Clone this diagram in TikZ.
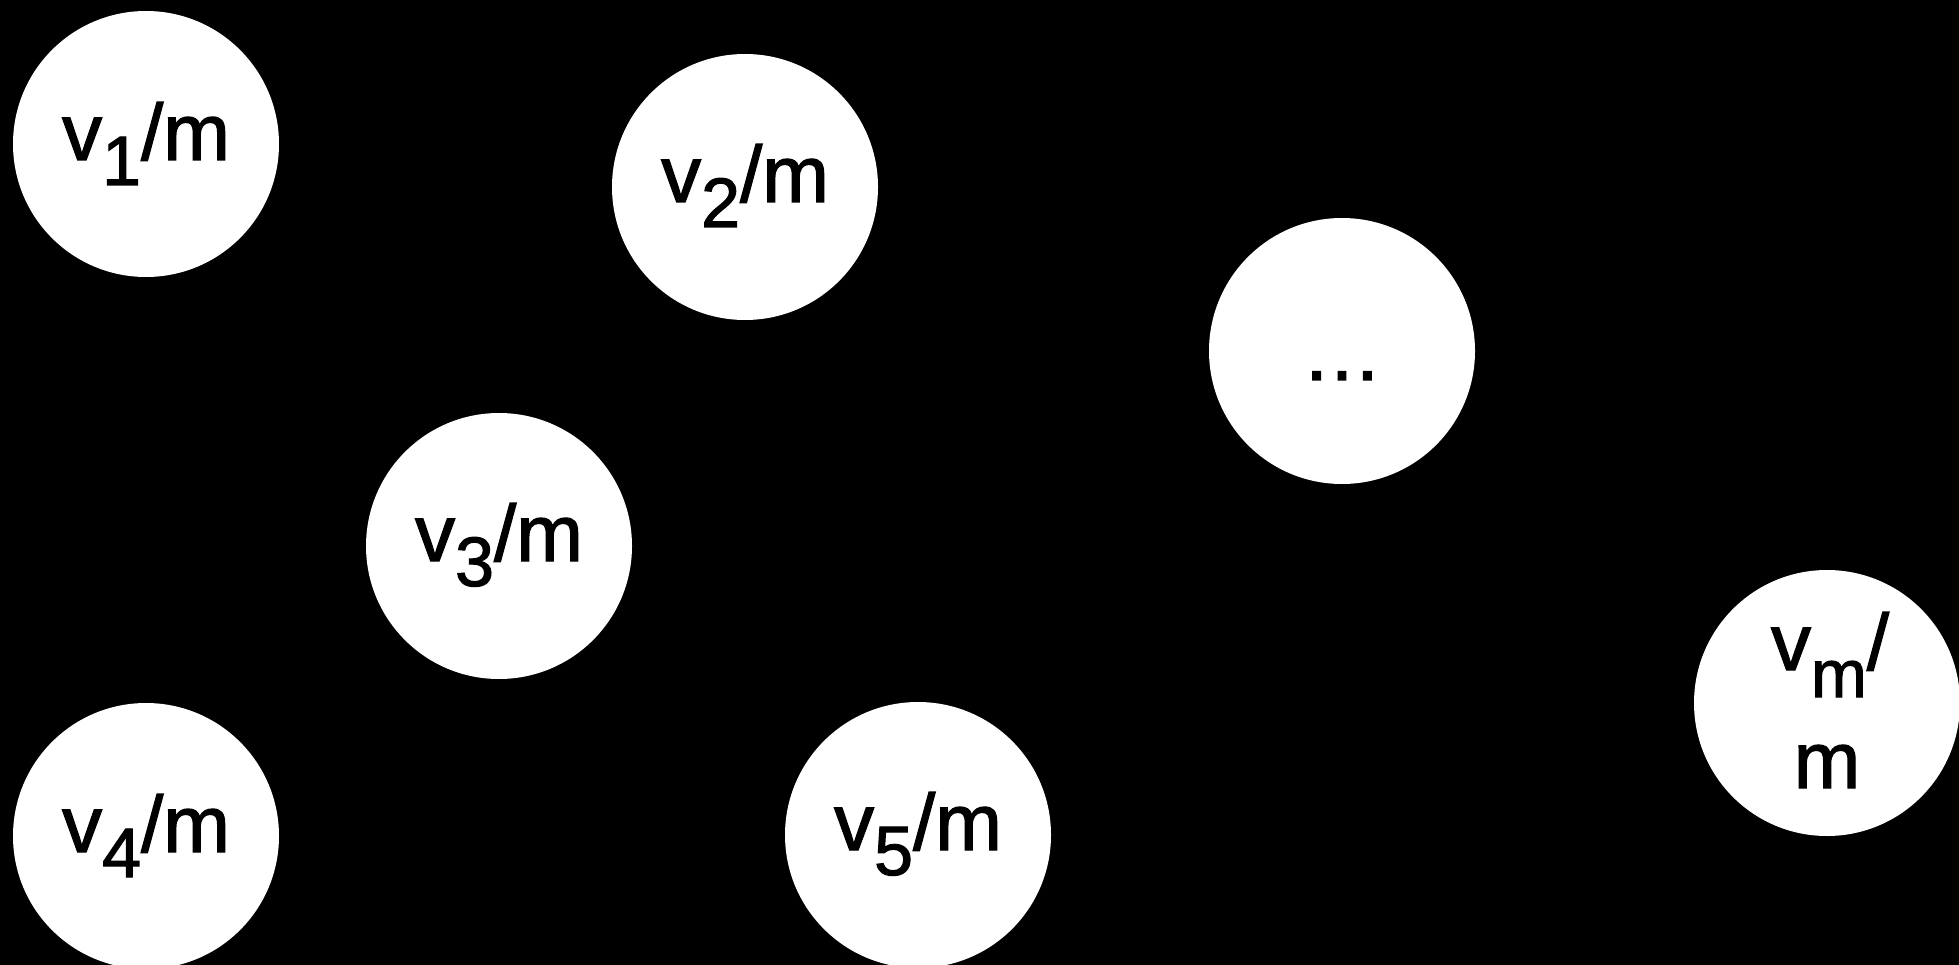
\documentclass[tikz,border=0pt]{standalone}
\usepackage{fontspec}
\setmainfont[FakeBold=1.6]{Liberation Sans}
\newcommand{\lbl}[1]{v\raisebox{-25pt}{\fontsize{70}{70}\selectfont #1}/m}
\begin{document}
\begin{tikzpicture}[x=1pt,y=-1pt,
  bubble/.style={circle,fill=white,draw=none,minimum size=266pt,inner sep=0pt},
  txt/.style={anchor=base,inner sep=0pt,font=\fontsize{80}{96}\selectfont}]
\fill[black] (0,0) rectangle (1959,965);
\useasboundingbox (0,0) rectangle (1959,965);
\node[bubble] (c1) at (146,144) {};
\node[bubble] (c2) at (745,187) {};
\node[bubble] (cd) at (1342,351) {};
\node[bubble] (c3) at (499,546) {};
\node[bubble] (c4) at (146,836) {};
\node[bubble] (c5) at (918,835) {};
\node[bubble] (cm) at (1827,703) {};
\node[txt] (t1) at ([yshift=-16pt]c1.center) {\lbl{1}};
\node[txt] (t2) at ([yshift=-15pt]c2.center) {\lbl{2}};
\node[txt] (t3) at ([yshift=-15pt]c3.center) {\lbl{3}};
\node[txt] (t4) at ([yshift=-16pt]c4.center) {\lbl{4}};
\node[txt] (t5) at ([yshift=-15pt]c5.center) {\lbl{5}};
\node[txt] (td) at ([yshift=-29pt]cd.center) {\dots};
\node[txt] (tm1) at ([xshift=3pt,yshift=33pt]cm.center) {v\raisebox{-27pt}{\fontsize{67}{67}\selectfont m}/};
\node[txt] (tm2) at ([yshift=-85pt]cm.center) {m};
\end{tikzpicture}
\end{document}
